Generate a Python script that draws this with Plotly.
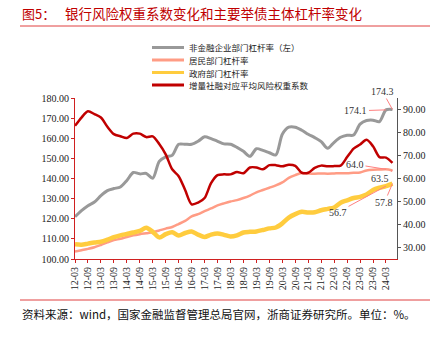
import plotly.graph_objects as go

quarters = ["12-03","12-06","12-09","12-12","13-03","13-06","13-09","13-12",
            "14-03","14-06","14-09","14-12","15-03","15-06","15-09","15-12",
            "16-03","16-06","16-09","16-12","17-03","17-06","17-09","17-12",
            "18-03","18-06","18-09","18-12","19-03","19-06","19-09","19-12",
            "20-03","20-06","20-09","20-12","21-03","21-06","21-09","21-12",
            "22-03","22-06","22-09","22-12","23-03","23-06","23-09","23-12",
            "24-03","24-06"]
tick_labels = ["12-03","12-09","13-03","13-09","14-03","14-09","15-03","15-09",
               "16-03","16-09","17-03","17-09","18-03","18-09","19-03","19-09",
               "20-03","20-09","21-03","21-09","22-03","22-09","23-03","23-09","24-03"]

corp = [121.0,124.0,126.5,128.3,131.5,134.0,135.0,135.8,139.0,143.0,
        142.3,142.5,140.1,148.5,150.8,151.5,157.0,157.0,157.0,158.5,
        160.7,159.8,158.5,157.2,157.0,155.5,153.5,151.0,154.8,154.0,
        152.8,151.7,162.0,165.5,165.5,164.0,162.0,160.3,158.3,155.0,
        158.0,160.5,161.5,161.6,167.0,168.8,169.0,168.3,174.1,174.3]
household = [28.2,28.8,29.4,30.1,31.1,32.2,33.2,33.8,34.6,35.3,
             35.8,36.2,36.6,37.4,38.2,38.9,40.2,41.6,43.5,44.5,
             45.8,47.0,48.3,49.2,50.0,50.6,51.5,52.6,54.0,55.0,
             56.0,57.0,58.3,60.3,61.5,62.4,62.2,62.1,62.2,62.1,
             62.2,62.3,62.3,62.5,62.6,63.5,63.8,63.9,64.0,63.5]
government = [31.4,31.2,31.7,32.2,32.5,33.4,34.5,35.3,35.9,36.5,
              37.2,38.6,36.8,34.4,35.8,36.6,35.2,36.3,37.0,35.6,
              34.6,35.6,36.1,35.5,34.8,35.3,36.5,36.8,37.0,37.6,
              38.3,38.7,40.5,43.0,44.5,45.5,45.2,45.3,46.2,46.8,
              47.4,49.5,50.5,51.5,52.0,53.0,55.0,56.0,56.7,57.8]
risk_weight = [82.9,86.5,89.2,88.0,86.5,82.5,79.3,78.4,77.6,79.5,
               79.5,78.0,78.3,75.0,70.5,64.0,61.0,55.0,48.8,49.5,
               51.5,58.0,61.5,61.8,61.8,62.8,62.3,64.8,64.8,64.0,
               65.8,65.8,65.3,66.0,65.5,62.5,62.5,64.6,65.6,65.3,
               65.4,65.6,69.3,73.0,74.8,76.8,74.0,69.3,69.1,66.8]

names = ["非金融企业部门杠杆率（左）", "居民部门杠杆率", "政府部门杠杆率", "增量社融对应平均风险权重系数"]
colors = ["#999999", "#FF9C85", "#FFCC3E", "#C00000"]
widths = [3, 2.5, 4.5, 2.5]

fig = go.Figure()
fig.add_trace(go.Scatter(x=quarters, y=corp, mode="lines", name=names[0],
                         line=dict(color=colors[0], width=widths[0], shape="spline", smoothing=0.8),
                         yaxis="y", showlegend=False))
fig.add_trace(go.Scatter(x=quarters, y=household, mode="lines", name=names[1],
                         line=dict(color=colors[1], width=widths[1], shape="spline", smoothing=0.8),
                         yaxis="y2", showlegend=False))
fig.add_trace(go.Scatter(x=quarters, y=government, mode="lines", name=names[2],
                         line=dict(color=colors[2], width=widths[2], shape="spline", smoothing=0.8),
                         yaxis="y2", showlegend=False))
fig.add_trace(go.Scatter(x=quarters, y=risk_weight, mode="lines", name=names[3],
                         line=dict(color=colors[3], width=widths[3], shape="spline", smoothing=0.8),
                         yaxis="y2", showlegend=False))

L, R, T, B = 75, 44, 98, 80
W, H = 441, 339
pw, ph = W - L - R, H - T - B

def px(x):
    return (x - L) / pw

def py(y):
    return (H - B - y) / ph

serif = "Liberation Serif, Times New Roman, serif"
cjk = "Noto Sans CJK SC, sans-serif"

annotations = []
shapes = []

# manual legend
rows = [47.5, 60, 72.5, 85]
for nm, col, ry in zip(names, colors, rows):
    shapes.append(dict(type="line", xref="paper", yref="paper",
                       x0=px(152), x1=px(184), y0=py(ry), y1=py(ry),
                       line=dict(color=col, width=3)))
    annotations.append(dict(text=nm, xref="paper", yref="paper", x=px(188), y=py(ry),
                            xanchor="left", yanchor="middle", showarrow=False, borderpad=0,
                            font=dict(family=cjk, size=8.5, color="#222222")))

# title
annotations.append(dict(text="图5：", xref="paper", yref="paper", x=px(20), y=py(13),
                        xanchor="left", yanchor="middle", showarrow=False,
                        font=dict(family=cjk, size=13, color="#C00000")))
annotations.append(dict(text="银行风险权重系数变化和主要举债主体杠杆率变化", xref="paper", yref="paper",
                        x=px(63), y=py(13), xanchor="left", yanchor="middle", showarrow=False,
                        font=dict(family=cjk, size=13.5, color="#C00000")))
shapes.append(dict(type="line", xref="paper", yref="paper", x0=px(20), x1=px(430),
                   y0=py(26), y1=py(26), line=dict(color="#E04040", width=1)))
# footer
shapes.append(dict(type="line", xref="paper", yref="paper", x0=px(20), x1=px(430),
                   y0=py(300), y1=py(300), line=dict(color="#E04040", width=1)))
annotations.append(dict(text="资料来源：wind，国家金融监督管理总局官网，浙商证券研究所。单位：%。",
                        xref="paper", yref="paper", x=px(20), y=py(314),
                        xanchor="left", yanchor="middle", showarrow=False,
                        font=dict(family=cjk, size=11.5, color="#111111")))

# data labels
lab_font = dict(family=serif, size=10, color="#333333")
arrow_col = "#FF8080"
def lab(xc, yv, yref, text, ax, ay):
    annotations.append(dict(x=xc, y=yv, xref="x", yref=yref, text=text, showarrow=True,
                            arrowhead=0, arrowwidth=1, arrowcolor=arrow_col,
                            ax=ax, ay=ay, font=lab_font, standoff=0))

lab(quarters[49], corp[49], "y", "174.3", -10, -18)
lab(quarters[48], corp[48], "y", "174.1", -30, 1)
lab(quarters[48], household[48], "y2", "64.0", -31, -5)
lab(quarters[49], household[49], "y2", "63.5", -12, 8)
lab(quarters[48], government[48], "y2", "56.7", -48, 26)
lab(quarters[49], government[49], "y2", "57.8", -8, 19)

fig.update_layout(
    width=W, height=H,
    margin=dict(l=L, r=R, t=T, b=B, pad=0),
    paper_bgcolor="white", plot_bgcolor="white",
    xaxis=dict(type="category", range=[0, 49.7], tickmode="array",
               tickvals=tick_labels, ticktext=tick_labels, tickangle=-90,
               showline=True, linecolor="#D02020", linewidth=1,
               ticks="outside", tickcolor="#D02020", ticklen=3,
               showgrid=False, zeroline=False,
               tickfont=dict(family=serif, size=10, color="#222222")),
    yaxis=dict(range=[100, 180], dtick=10, tickformat=".2f",
               showline=True, linecolor="#D02020", linewidth=1,
               ticks="outside", tickcolor="#D02020", ticklen=3,
               showgrid=False, zeroline=False,
               tickfont=dict(family=serif, size=10, color="#222222")),
    yaxis2=dict(range=[25, 95], dtick=10, tickformat=".2f", overlaying="y", side="right",
                showline=True, linecolor="#555555", linewidth=1,
                ticks="outside", tickcolor="#555555", ticklen=3,
                showgrid=False, zeroline=False,
                tickfont=dict(family=serif, size=10, color="#222222")),
    annotations=annotations, shapes=shapes,
)

fig.write_html("out.html")
